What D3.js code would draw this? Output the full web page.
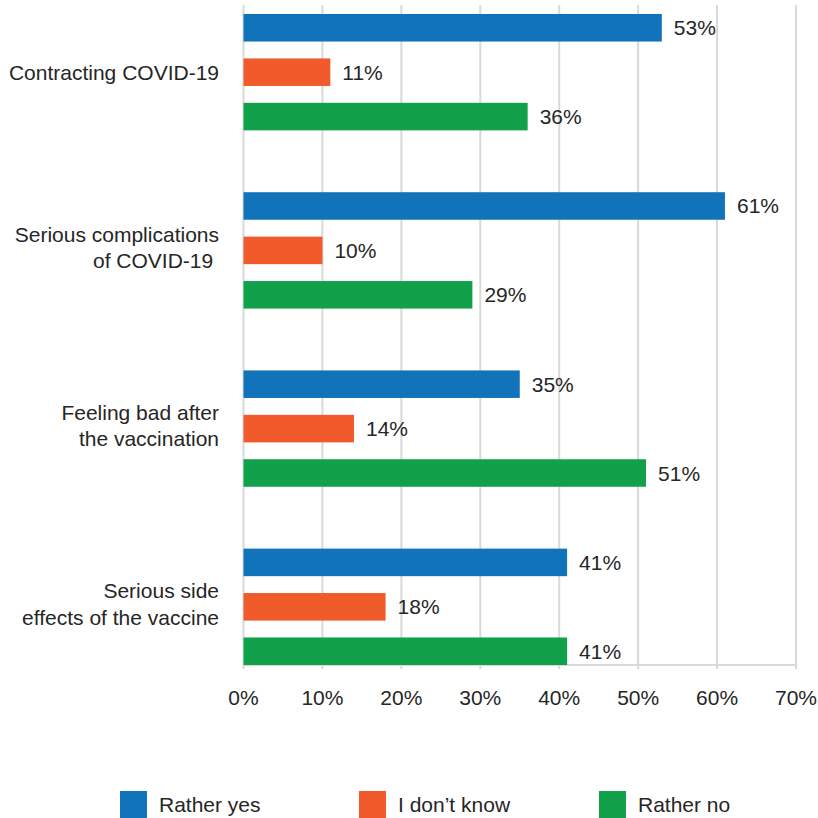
<!DOCTYPE html>
<html>
<head>
<meta charset="utf-8">
<script src="https://cdn.jsdelivr.net/npm/d3@7"></script>
<style>
  html, body { margin: 0; padding: 0; background: #fff; }
  svg { display: block; font-family: "Liberation Sans", Arial, sans-serif; }
</style>
</head>
<body>
<svg id="chart" width="818" height="818"></svg>
<script>
// Survey answers by concern (percent of respondents)
const categories = [
  ["Contracting COVID-19"],
  ["Serious complications", "of COVID-19 "],
  ["Feeling bad after", "the vaccination"],
  ["Serious side", "effects of the vaccine"]
];
const seriesNames = ["Rather yes", "I don\u2019t know", "Rather no"];
const ratherYes = [53, 61, 35, 41];
const dontKnow = [11, 10, 14, 18];
const ratherNo = [36, 29, 51, 41];
const xTicks = [0, 10, 20, 30, 40, 50, 60, 70];
const colors = ["#1173BA", "#F15A2A", "#10A14A"];

const seriesValues = [ratherYes, dontKnow, ratherNo];
const catKeys = categories.map((c, i) => i);

const svg = d3.select("#chart");
const textColor = "#262626";
const gridColor = "#d9d9d9";
const fontSize = 21;

const x = d3.scaleLinear().domain([0, 70]).range([243.5, 796]);
const y0 = d3.scaleBand().domain(catKeys).range([14, 665]).paddingInner(0.347).paddingOuter(0);
const y1 = d3.scaleBand().domain(d3.range(seriesNames.length)).range([0, y0.bandwidth()]).paddingInner(0.38).paddingOuter(0);

const plotTop = 5, plotBottom = 665;

// vertical gridlines
svg.append("g").selectAll("line").data(xTicks).join("line")
  .attr("x1", d => x(d)).attr("x2", d => x(d))
  .attr("y1", plotTop).attr("y2", plotBottom + 4)
  .attr("stroke", gridColor).attr("stroke-width", 2);

// bottom axis line
svg.append("line")
  .attr("x1", x(0)).attr("x2", x(70))
  .attr("y1", plotBottom).attr("y2", plotBottom)
  .attr("stroke", gridColor).attr("stroke-width", 2);

// x tick labels
svg.append("g").selectAll("text").data(xTicks).join("text")
  .attr("x", d => x(d)).attr("y", 705)
  .attr("text-anchor", "middle")
  .attr("font-size", fontSize).attr("fill", textColor)
  .text(d => d + "%");

// bars
const groups = svg.append("g").selectAll("g").data(catKeys).join("g")
  .attr("transform", d => `translate(0,${y0(d)})`);

groups.selectAll("rect")
  .data(ci => seriesValues.map((vals, si) => ({ si, v: vals[ci] })))
  .join("rect")
  .attr("x", x(0))
  .attr("y", d => y1(d.si))
  .attr("width", d => x(d.v) - x(0))
  .attr("height", y1.bandwidth())
  .attr("fill", d => colors[d.si]);

groups.selectAll("text.val")
  .data(ci => seriesValues.map((vals, si) => ({ si, v: vals[ci] })))
  .join("text")
  .attr("class", "val")
  .attr("x", d => x(d.v) + 12)
  .attr("y", d => y1(d.si) + y1.bandwidth() / 2 + 7.5)
  .attr("font-size", fontSize).attr("fill", textColor)
  .text(d => d.v + "%");

// category labels (multi-line labels sit a little above the group centre)
const lineH = 26.5;
svg.append("g").selectAll("text").data(catKeys).join("text")
  .attr("text-anchor", "end")
  .attr("font-size", fontSize).attr("fill", textColor)
  .attr("transform", d => `translate(219,${y0(d) + y0.bandwidth() / 2})`)
  .each(function (d) {
    const lines = categories[d];
    const t = d3.select(this);
    const shift = lines.length > 1 ? -3 : 0;
    lines.forEach((ln, i) => {
      t.append("tspan")
        .attr("x", 0)
        .attr("y", (i - (lines.length - 1) / 2) * lineH + 7.5 + shift)
        .attr("xml:space", "preserve")
        .style("white-space", "pre")
        .text(ln);
    });
  });

// legend
const legendX = [120, 359, 599];
const legend = svg.append("g").selectAll("g").data(seriesNames).join("g")
  .attr("transform", (d, i) => `translate(${legendX[i]},791)`);
legend.append("rect")
  .attr("width", 27).attr("height", 27)
  .attr("fill", (d, i) => colors[i]);
legend.append("text")
  .attr("x", 39).attr("y", 20.5)
  .attr("font-size", fontSize).attr("fill", textColor)
  .text(d => d);
</script>
</body>
</html>
